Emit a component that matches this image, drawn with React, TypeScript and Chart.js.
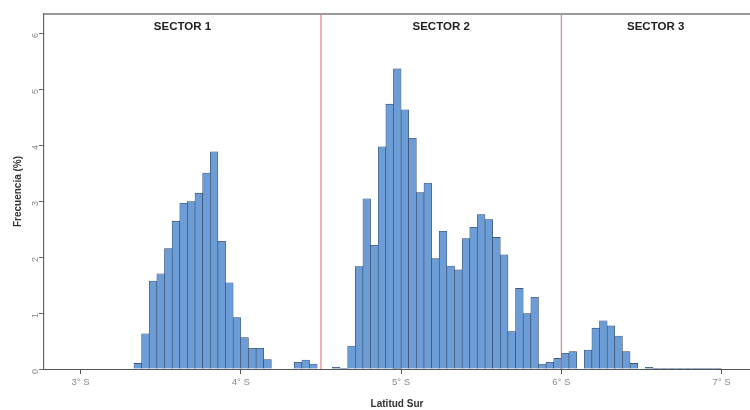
import React, { useEffect, useRef } from "react";
import { Chart, registerables } from "chart.js";

Chart.register(...registerables);

const FONT = "Arial, 'Liberation Sans', Helvetica, sans-serif";

// Histogram bin centres (degrees of south latitude, bins of 1/21 degree)
const binCenters = [
  3.3571, 3.4048, 3.4524, 3.5, 3.5476, 3.5952, 3.6429, 3.6905, 3.7381, 3.7857, 3.8333, 3.881, 3.9286, 3.9762,
  4.0238, 4.0714, 4.119, 4.1667, 4.2143, 4.2619, 4.3095, 4.3571, 4.4048, 4.4524, 4.5, 4.5476, 4.5952, 4.6429,
  4.6905, 4.7381, 4.7857, 4.8333, 4.881, 4.9286, 4.9762,
  5.0238, 5.0714, 5.119, 5.1667, 5.2143, 5.2619, 5.3095, 5.3571, 5.4048, 5.4524, 5.5, 5.5476, 5.5952, 5.6429,
  5.6905, 5.7381, 5.7857, 5.8333, 5.881, 5.9286, 5.9762,
  6.0238, 6.0714, 6.119, 6.1667, 6.2143, 6.2619, 6.3095, 6.3571, 6.4048, 6.4524, 6.5, 6.5476, 6.5952, 6.6429,
  6.6905, 6.7381, 6.7857, 6.8333, 6.881, 6.9286, 6.9762,
];

// Frequency (%) per bin
const frequencies = [
  0.1, 0.63, 1.57, 1.7, 2.15, 2.64, 2.96, 2.99, 3.14, 3.5, 3.88, 2.28, 1.54, 0.92,
  0.56, 0.37, 0.37, 0.17, 0, 0, 0, 0.12, 0.16, 0.09, 0, 0, 0.03, 0.01,
  0.41, 1.83, 3.04, 2.21, 3.97, 4.73, 5.36,
  4.63, 4.12, 3.15, 3.32, 1.97, 2.46, 1.84, 1.77, 2.33, 2.53, 2.76, 2.67, 2.35, 2.04,
  0.67, 1.44, 0.99, 1.28, 0.09, 0.12, 0.19,
  0.28, 0.31, 0, 0.34, 0.73, 0.86, 0.77, 0.59, 0.31, 0.1, 0, 0.03, 0.012, 0.012,
  0.012, 0.012, 0.012, 0.012, 0.012, 0.012, 0.012,
];

const xTickValues = [3, 4, 5, 6, 7];
const xTickLabels = ["3° S", "4° S", "5° S", "6° S", "7° S"];
const yTickValues = [0, 1, 2, 3, 4, 5, 6];
const yTickLabels = ["0", "1", "2", "3", "4", "5", "6"];
const sectorBoundaries = [4.5, 6.0];
const sectorNames = ["SECTOR 1", "SECTOR 2", "SECTOR 3"];

const X_MIN = 2.772;
const X_MAX = 7.177;
const Y_MAX = 6.34;

const decorPlugin = {
  id: "decor",
  afterDraw(chart: any) {
    const { ctx, chartArea, scales } = chart;
    const { left, right, top, bottom } = chartArea;
    const x = scales.x;
    ctx.save();
    // top frame line
    ctx.strokeStyle = "#7a7a7a";
    ctx.lineWidth = 1.5;
    ctx.beginPath();
    ctx.moveTo(left, top);
    ctx.lineTo(right, top);
    ctx.stroke();
    // sector boundary lines
    ctx.strokeStyle = "rgba(232, 95, 112, 0.8)";
    ctx.lineWidth = 1.2;
    sectorBoundaries.forEach((v) => {
      const px = x.getPixelForValue(v);
      ctx.beginPath();
      ctx.moveTo(px, top + 1);
      ctx.lineTo(px, bottom);
      ctx.stroke();
    });
    // sector labels
    const edges = [x.min, ...sectorBoundaries, x.max];
    ctx.fillStyle = "#222";
    ctx.font = `bold 11.5px ${FONT}`;
    ctx.textAlign = "center";
    ctx.textBaseline = "middle";
    sectorNames.forEach((name, i) => {
      const mid = (edges[i] + edges[i + 1]) / 2;
      ctx.fillText(name, x.getPixelForValue(mid), top + 13);
    });
    ctx.restore();
  },
};

export default function App() {
  const canvasRef = useRef<HTMLCanvasElement | null>(null);

  useEffect(() => {
    if (!canvasRef.current) return;
    const chart = new Chart(canvasRef.current, {
      type: "bar",
      data: {
        datasets: [
          {
            data: binCenters.map((c, i) => ({ x: c, y: frequencies[i] })),
            backgroundColor: "#6c9dd6",
            borderColor: "#34425c",
            borderWidth: 0.6,
            barPercentage: 1,
            categoryPercentage: 1,
          } as any,
        ],
      },
      options: {
        responsive: false,
        devicePixelRatio: 1,
        animation: false,
        layout: { padding: { top: 14, left: 0, right: 0, bottom: 0 } },
        plugins: { legend: { display: false }, tooltip: { enabled: false } },
        scales: {
          x: {
            type: "linear",
            min: X_MIN,
            max: X_MAX,
            offset: false,
            afterBuildTicks: (scale: any) => {
              scale.ticks = xTickValues.map((v) => ({ value: v }));
            },
            afterFit: (scale: any) => {
              scale.height = 41;
              scale.paddingLeft = 0;
              scale.paddingRight = 0;
            },
            ticks: {
              callback: (_v: any, i: number) => xTickLabels[i],
              color: "#8a8a8a",
              font: { family: FONT, size: 9.5 },
              maxRotation: 0,
              minRotation: 0,
              padding: 3,
            },
            grid: {
              display: true,
              offset: false,
              drawOnChartArea: false,
              drawTicks: true,
              tickLength: 5,
              color: "#555",
            },
            border: { display: true, color: "#555", width: 1 },
            title: {
              display: true,
              text: "Latitud Sur",
              color: "#333",
              font: { family: FONT, size: 10, weight: "bold" },
              padding: { top: 0, bottom: 0 },
            },
          },
          y: {
            type: "linear",
            min: 0,
            max: Y_MAX,
            afterBuildTicks: (scale: any) => {
              scale.ticks = yTickValues.map((v) => ({ value: v }));
            },
            afterFit: (scale: any) => {
              scale.width = 44;
              scale.paddingTop = 0;
              scale.paddingBottom = 0;
            },
            ticks: {
              callback: (_v: any, i: number) => yTickLabels[i],
              color: "#8a8a8a",
              font: { family: FONT, size: 9 },
              minRotation: 90,
              maxRotation: 90,
              padding: 3,
            },
            grid: {
              display: true,
              offset: false,
              drawOnChartArea: false,
              drawTicks: true,
              tickLength: 5,
              color: "#666",
            },
            border: { display: true, color: "#666", width: 1.2 },
            title: {
              display: true,
              text: "Frecuencia (%)",
              color: "#333",
              font: { family: FONT, size: 10, weight: "bold" },
              padding: { top: 12, bottom: 0 },
            },
          },
        },
      },
      plugins: [decorPlugin],
    });
    return () => chart.destroy();
  }, []);

  return (
    <div style={{ position: "fixed", left: 0, top: 0, width: 750, height: 410, background: "#fff" }}>
      <canvas ref={canvasRef} width={750} height={410} style={{ display: "block" }} />
    </div>
  );
}
